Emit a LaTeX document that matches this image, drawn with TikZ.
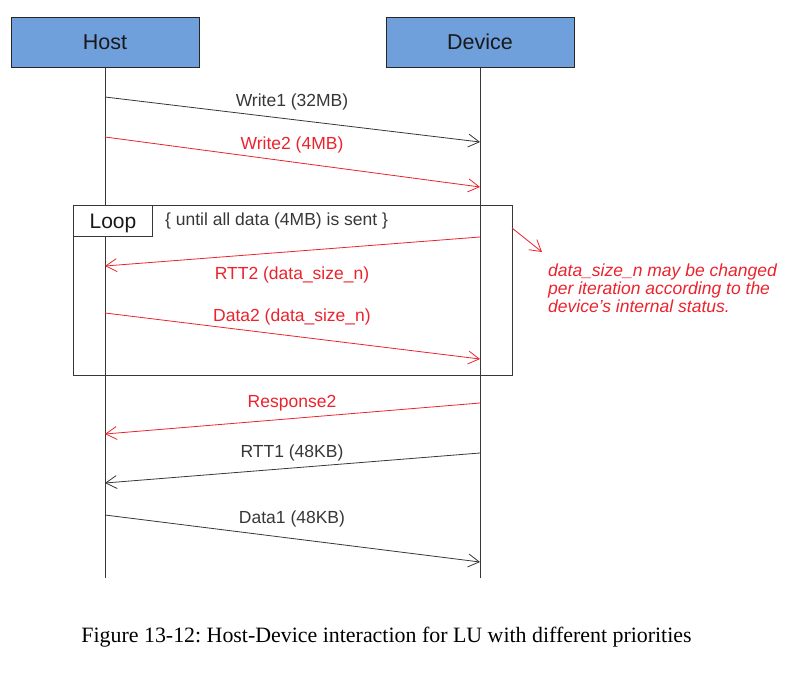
\documentclass[tikz,border=0pt]{standalone}
\usepackage{fontspec}
\setmainfont{Liberation Sans}
\newfontfamily\capfont{Liberation Serif}
\usetikzlibrary{arrows.meta}
\definecolor{hdr}{RGB}{111,160,220}
\definecolor{myred}{RGB}{235,35,45}
\definecolor{ink}{RGB}{55,55,55}
\frenchspacing
\begin{document}
\begin{tikzpicture}[x=1pt,y=-1pt,
  hdrbox/.style={draw=black!85,line width=1pt,fill=hdr,minimum width=188pt,minimum height=50pt,inner sep=0pt,
    font=\fontsize{21.5}{24}\selectfont,text=black!90,text height=15.4pt,text depth=0pt},
  msg/.style={line width=0.8pt,-{Straight Barb[length=11pt,width=13pt]}},
  blk/.style={msg,draw=ink},
  rd/.style={msg,draw=myred},
  lbl/.style={anchor=base,font=\fontsize{17.5}{20}\selectfont,inner sep=0pt,text=ink},
  rlbl/.style={lbl,text=myred},
  ann/.style={anchor=base west,font=\fontsize{17.5}{20}\selectfont\itshape,inner sep=0pt,text=myred},
  life/.style={draw=ink,line width=0.9pt},
  frame/.style={draw=ink,line width=1pt}]
\useasboundingbox (0,0) rectangle (796,675);

% headers
\node[hdrbox] (host) at (105,42) {Host};
\node[hdrbox] (device) at (480,42) {Device};
\coordinate (hostend) at (105,578);
\coordinate (devend) at (480,578);
\draw[life] (host.south) -- (hostend);
\draw[life] (device.south) -- (devend);

% loop frame
\node[frame,minimum width=439pt,minimum height=170pt,inner sep=0pt] (loop) at (292.5,290) {};
\node[frame,fill=white,anchor=north west,minimum width=79pt,minimum height=31pt,inner sep=0pt,
  font=\fontsize{21}{24}\selectfont,text=black!90,text height=15pt,text depth=0pt] (looplbl) at (73,205) {Loop};
\node[anchor=base west,font=\fontsize{17.5}{20}\selectfont,inner sep=0pt,text=ink] (cond) at (165,225) {\{ until all data (4MB) is sent \}};

% message points
\coordinate (h1) at (105,97);  \coordinate (d1) at (480,142);
\coordinate (h2) at (105,137); \coordinate (d2) at (480,187);
\coordinate (d3) at (480,237); \coordinate (h3) at (105,266);
\coordinate (h4) at (105,313); \coordinate (d4) at (480,359);
\coordinate (d5) at (480,403); \coordinate (h5) at (105,434);
\coordinate (d6) at (480,453); \coordinate (h6) at (105,483);
\coordinate (h7) at (105,515); \coordinate (d7) at (480,562);

\draw[blk] (h1) -- (d1);
\draw[rd] (h2) -- (d2);
\draw[rd] (d3) -- (h3);
\draw[rd] (h4) -- (d4);
\draw[rd] (d5) -- (h5);
\draw[blk] (d6) -- (h6);
\draw[blk] (h7) -- (d7);

\node[lbl] (l1) at (292,106) {Write1 (32MB)};
\node[rlbl] (l2) at (292,149) {Write2 (4MB)};
\node[rlbl] (l3) at (292,279) {RTT2 (data\_size\_n)};
\node[rlbl] (l4) at (292,321) {Data2 (data\_size\_n)};
\node[rlbl] (l5) at (292,407) {Response2};
\node[lbl] (l6) at (292,457) {RTT1 (48KB)};
\node[lbl] (l7) at (292,523) {Data1 (48KB)};

% annotation
\coordinate (a0) at (512,228);
\coordinate (a1) at (542,252);
\draw[rd] (a0) -- (a1);
\node[ann] (ann1) at (548,276) {data\_size\_n may be changed};
\node[ann] (ann2) at (548,294.3) {per iteration according to the};
\node[ann] (ann3) at (548,312.6) {device’s internal status.};

% caption
\node[anchor=base,inner sep=0pt,font=\capfont\fontsize{21.9}{24}\selectfont] (cap) at (386.5,642)
  {Figure 13-12: Host-Device interaction for LU with different priorities};
\end{tikzpicture}
\end{document}
